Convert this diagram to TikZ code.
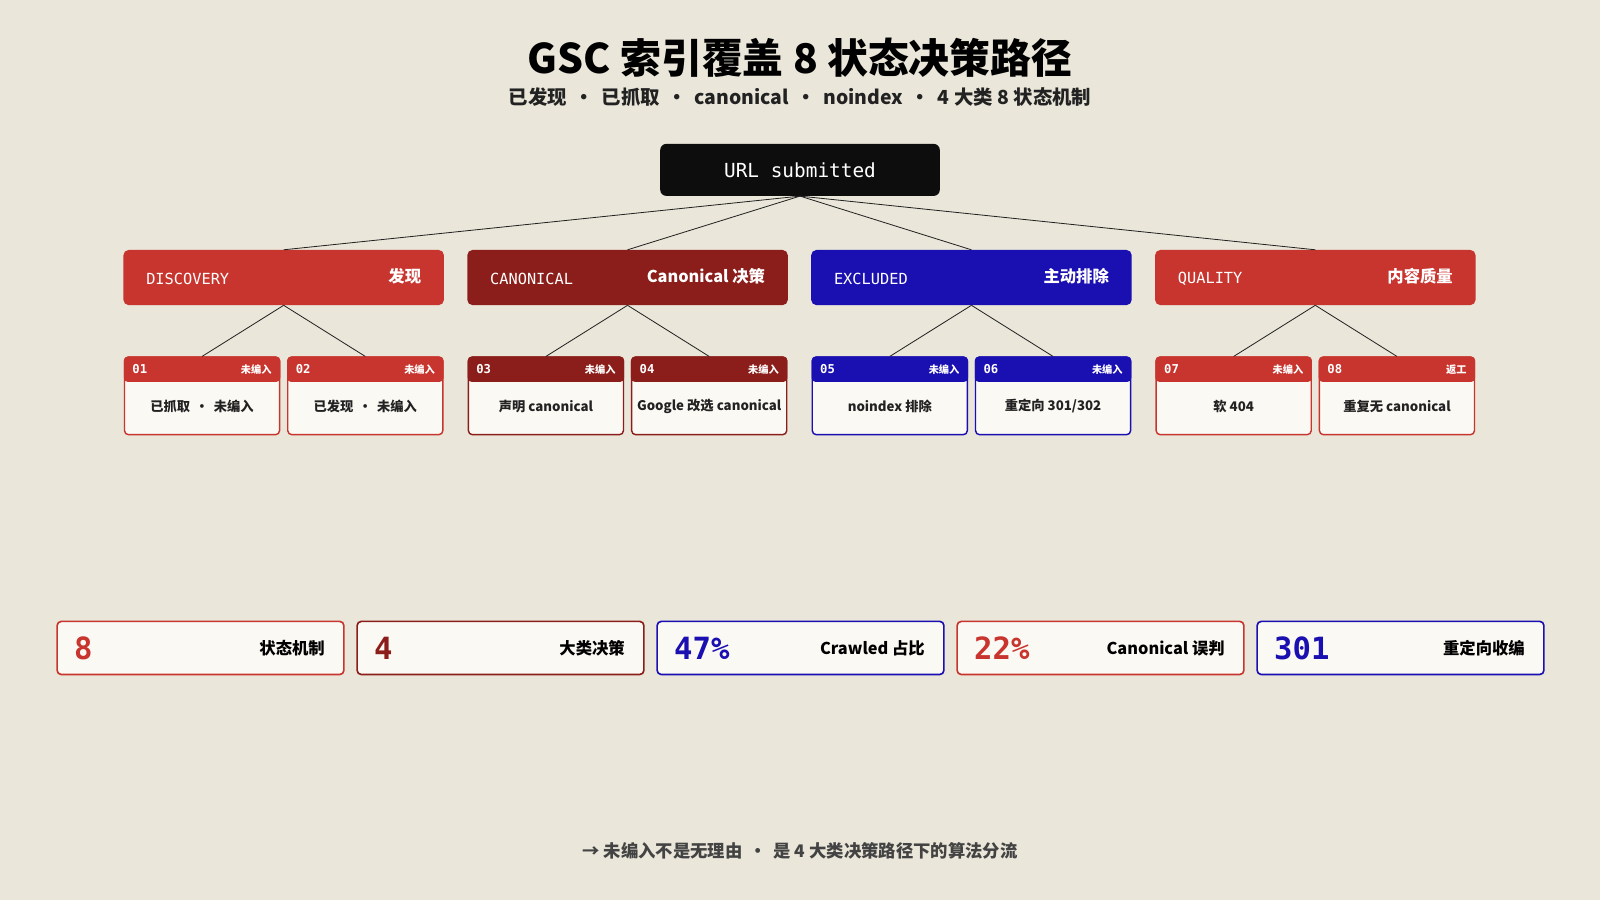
\documentclass[tikz,border=0pt]{standalone}
\usepackage{fontspec}
\setmainfont{Noto Sans CJK SC}
\setmonofont{DejaVu Sans Mono}
\definecolor{bgc}{HTML}{EAE6D9}
\definecolor{redc}{HTML}{C8352E}
\definecolor{darkc}{HTML}{8B1E1A}
\definecolor{bluec}{HTML}{1A0FB0}
\definecolor{cardc}{HTML}{FBF9F4}
\definecolor{inkc}{HTML}{222222}
\tikzstyle{cat} = [rectangle,rounded corners=5pt,minimum width=314pt,minimum height=54pt,inner sep=0pt]
\tikzstyle{leaf} = [rectangle,rounded corners=4pt,draw,line width=1.4pt,fill=cardc,minimum width=152pt,minimum height=76pt,inner sep=0pt]
\tikzstyle{stat} = [rectangle,rounded corners=4pt,draw,line width=1.6pt,fill=cardc,minimum width=281pt,minimum height=52pt,inner sep=0pt]
\tikzstyle{wire} = [draw=inkc,line width=0.8pt]
% one leaf card: name, left x, colour, number, tag, text
\newcommand{\leafcard}[6]{
  \node[leaf,draw=#3] (#1) at (#2+77,388) {};
  \fill[#3] ([yshift=-25pt]#1.north west) [rounded corners=4pt] |- (#1.north) -| ([yshift=-25pt]#1.north east) -- cycle;
  \node[anchor=west,text=white,font=\ttfamily\bfseries\fontsize{12}{12}\selectfont] (#1n) at ([xshift=5pt,yshift=-12pt]#1.north west) {#4};
  \node[anchor=east,text=white,font=\bfseries\fontsize{10}{10}\selectfont] (#1t) at ([xshift=-5pt,yshift=-13pt]#1.north east) {#5};
  \node[text=inkc,font=\bfseries\fontsize{13}{13}\selectfont] (#1x) at (#2+77,398) {#6};
}
\newcommand{\statcard}[5]{
  \node[stat,draw=#3] (#1) at (#2+141.5,635) {};
  \node[anchor=west,text=#3,font=\ttfamily\bfseries\fontsize{30}{30}\selectfont] (#1v) at ([xshift=14pt]#1.west) {#4};
  \node[anchor=east,text=black,font=\bfseries\fontsize{16}{16}\selectfont] (#1l) at ([xshift=-16pt]#1.east) {#5};
}
\begin{document}
\begin{tikzpicture}[x=1pt,y=-1pt]
  \fill[bgc] (0,0) rectangle (1568,882);
  \useasboundingbox (0,0) rectangle (1568,882);

  \node[font=\bfseries\fontsize{40}{40}\selectfont,text=black] (title) at (784,57) {GSC 索引覆盖 8 状态决策路径};
  \node[font=\bfseries\fontsize{19}{19}\selectfont,text=inkc] (subtitle) at (784,95) {已发现 \,•\, 已抓取 \,•\, canonical \,•\, noindex \,•\, 4 大类 8 状态机制};

  \node[rectangle,rounded corners=6pt,fill=black!95,minimum width=274pt,minimum height=51pt,text=white,font=\ttfamily\fontsize{19}{19}\selectfont] (root) at (784,166.5) {URL submitted};

  \node[cat,fill=redc] (discovery) at (278,272) {};
  \node[cat,fill=darkc] (canonical) at (615,272) {};
  \node[cat,fill=bluec] (excluded) at (952,272) {};
  \node[cat,fill=redc] (quality) at (1289,272) {};
  \foreach \c/\l/\r in {discovery/DISCOVERY/发现 / 抓取, canonical/CANONICAL/Canonical 决策, excluded/EXCLUDED/主动排除, quality/QUALITY/内容质量}{
    \node[anchor=west,text=white,font=\ttfamily\fontsize{15}{15}\selectfont] (\c l) at ([xshift=19pt,yshift=-1pt]\c.west) {\l};
    \node[anchor=east,text=white,font=\bfseries\fontsize{16}{16}\selectfont] (\c r) at ([xshift=-19pt,yshift=1pt]\c.east) {\r};
  }

  \draw[wire] (root.south) -- (discovery.north);
  \draw[wire] (root.south) -- (canonical.north);
  \draw[wire] (root.south) -- (excluded.north);
  \draw[wire] (root.south) -- (quality.north);

  \leafcard{s1}{121}{redc}{01}{未编入}{已抓取 \,•\, 未编入}
  \leafcard{s2}{281}{redc}{02}{未编入}{已发现 \,•\, 未编入}
  \leafcard{s3}{458}{darkc}{03}{未编入}{声明 canonical}
  \leafcard{s4}{618}{darkc}{04}{未编入}{Google 改选 canonical}
  \leafcard{s5}{795}{bluec}{05}{未编入}{noindex 排除}
  \leafcard{s6}{955}{bluec}{06}{未编入}{重定向 301/302}
  \leafcard{s7}{1132}{redc}{07}{未编入}{软 404}
  \leafcard{s8}{1292}{redc}{08}{返工}{重复无 canonical}

  \draw[wire] (discovery.south) -- (s1.north);
  \draw[wire] (discovery.south) -- (s2.north);
  \draw[wire] (canonical.south) -- (s3.north);
  \draw[wire] (canonical.south) -- (s4.north);
  \draw[wire] (excluded.south) -- (s5.north);
  \draw[wire] (excluded.south) -- (s6.north);
  \draw[wire] (quality.south) -- (s7.north);
  \draw[wire] (quality.south) -- (s8.north);

  \statcard{m1}{55}{redc}{8}{状态机制}
  \statcard{m2}{349}{darkc}{4}{大类决策}
  \statcard{m3}{643}{bluec}{47\%}{Crawled 占比}
  \statcard{m4}{937}{redc}{22\%}{Canonical 误判}
  \statcard{m5}{1231}{bluec}{301}{重定向收编}

  \node[font=\bfseries\fontsize{17}{17}\selectfont,text=inkc!85] (footer) at (784,834) {→ 未编入不是无理由 \,•\, 是 4 大类决策路径下的算法分流};
\end{tikzpicture}
\end{document}
